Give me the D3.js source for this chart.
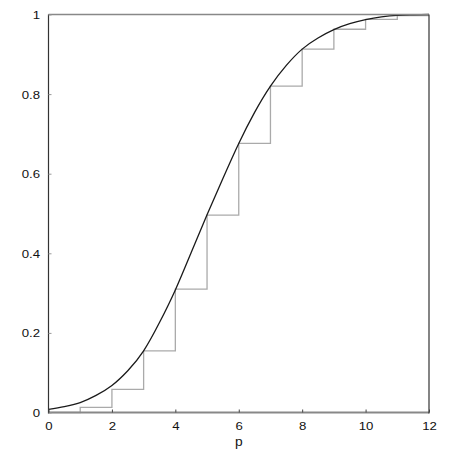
<!DOCTYPE html>
<html>
<head>
<meta charset="utf-8">
<script src="https://cdn.jsdelivr.net/npm/d3@7/dist/d3.min.js"></script>
<style>
  html, body { margin: 0; padding: 0; background: #fff; }
  svg { display: block; }
  text { font-family: "Liberation Sans", Arial, sans-serif; font-size: 11.5px; fill: #111; }
</style>
</head>
<body>
<svg id="chart" width="458" height="452"></svg>
<script>
// ---- data ----
const stepX = [0, 1, 2, 3, 4, 5, 6, 7, 8, 9, 10, 11, 12];
const stepY = [0, 0.013, 0.058, 0.155, 0.310, 0.496, 0.676, 0.820, 0.913, 0.963, 0.988, 0.997, 0.997];

const curveX = [0, 0.5, 1, 1.5, 2, 2.5, 3, 3.5, 4, 4.5, 5, 5.5, 6, 6.5, 7, 7.5, 8, 8.5, 9, 9.5, 10, 10.5, 11, 11.5, 12];
const curveY = [0.008, 0.015, 0.025, 0.043, 0.068, 0.105, 0.155, 0.226, 0.308, 0.402, 0.497, 0.588, 0.676, 0.754, 0.820, 0.872, 0.913, 0.941, 0.962, 0.977, 0.987, 0.994, 0.998, 0.999, 1.0];

const xTicks = [0, 2, 4, 6, 8, 10, 12];
const yTicks = [0, 0.2, 0.4, 0.6, 0.8, 1];
const xLabel = "p";

// ---- layout ----
const svg = d3.select("#chart");
const x = d3.scaleLinear().domain([0, 12]).range([48.5, 429]);
const y = d3.scaleLinear().domain([0, 1]).range([412.5, 14.5]);
const stretch = 1.15;

// step function
const stepPts = stepX.map((v, i) => [v, stepY[i]]);
svg.append("path")
  .datum(stepPts)
  .attr("fill", "none")
  .attr("stroke", "#aaaaaa")
  .attr("stroke-width", 1.3)
  .attr("d", d3.line().x(d => x(d[0])).y(d => y(d[1])).curve(d3.curveStepAfter));

// smooth curve
const curvePts = curveX.map((v, i) => [v, curveY[i]]);
svg.append("path")
  .datum(curvePts)
  .attr("fill", "none")
  .attr("stroke", "#1a1a1a")
  .attr("stroke-width", 1.3)
  .attr("d", d3.line().x(d => x(d[0])).y(d => y(d[1])).curve(d3.curveNatural));

// frame
const [x0, x1] = x.range();
const [yb, yt] = y.range();
svg.append("line").attr("x1", x0).attr("x2", x1).attr("y1", yt).attr("y2", yt)
  .attr("stroke", "#888").attr("stroke-width", 1.5);
svg.append("line").attr("x1", x0).attr("x2", x1).attr("y1", yb).attr("y2", yb)
  .attr("stroke", "#888").attr("stroke-width", 2);
svg.append("line").attr("x1", x0).attr("x2", x0).attr("y1", yt).attr("y2", yb + 1)
  .attr("stroke", "#333").attr("stroke-width", 1.2);
svg.append("line").attr("x1", x1).attr("x2", x1).attr("y1", yt).attr("y2", yb + 1)
  .attr("stroke", "#333").attr("stroke-width", 1.2);

// y axis ticks (inward) and labels
const yAxis = d3.axisRight(y).tickValues(yTicks).tickSize(3)
  .tickFormat(d => d3.format("~g")(d));
const gy = svg.append("g").attr("transform", `translate(${x0},0)`).call(yAxis);
gy.select(".domain").remove();
gy.selectAll(".tick line").attr("stroke", "#999");
gy.selectAll(".tick text")
  .attr("x", 0).attr("dy", "0.35em").attr("text-anchor", "end")
  .attr("transform", `translate(-8.5,0) scale(${stretch},1)`)
  .style("font-family", "Liberation Sans, Arial, sans-serif").style("font-size", "11.5px").attr("fill", "#111");

// x axis ticks (inward) and labels
const xAxis = d3.axisTop(x).tickValues(xTicks).tickSize(3).tickFormat(d3.format("d"));
const gx = svg.append("g").attr("transform", `translate(0,${yb})`).call(xAxis);
gx.select(".domain").remove();
gx.selectAll(".tick line").attr("stroke", "#444");
gx.selectAll(".tick text")
  .attr("y", 0).attr("dy", 0).attr("text-anchor", "middle")
  .attr("transform", `translate(0,17.5) scale(${stretch},1)`)
  .style("font-family", "Liberation Sans, Arial, sans-serif").style("font-size", "11.5px").attr("fill", "#111");

svg.append("text")
  .attr("x", 0).attr("y", 0)
  .attr("text-anchor", "middle")
  .attr("transform", `translate(${(x0 + x1) / 2},446) scale(${stretch},1)`)
  .style("font-size", "12px")
  .text(xLabel);
</script>
</body>
</html>
